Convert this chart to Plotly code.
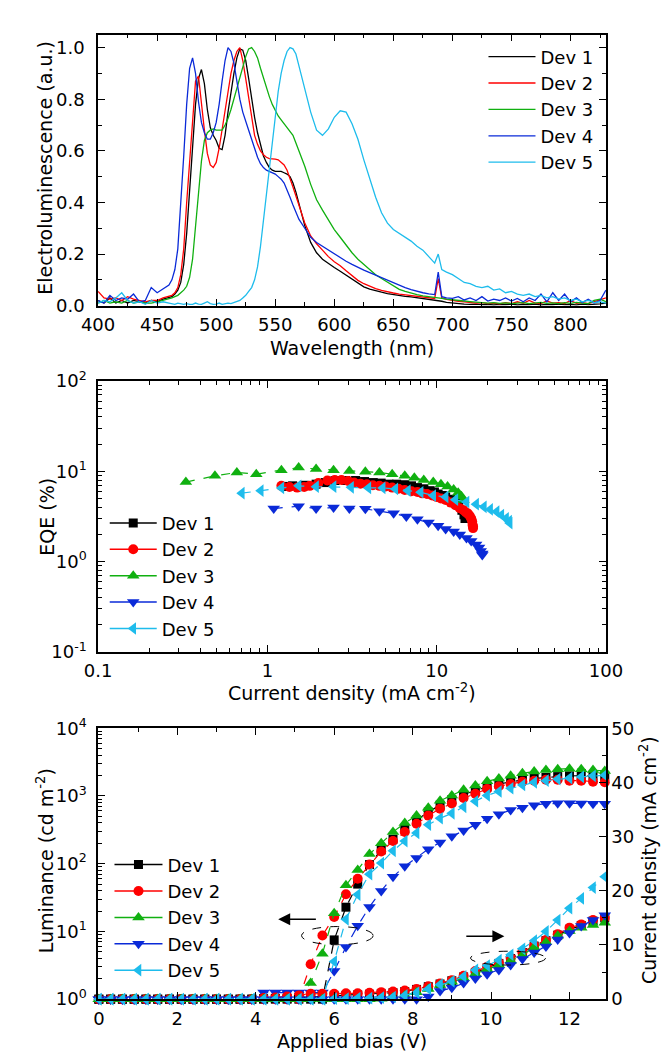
import plotly.graph_objects as go

# ---------------- data: electroluminescence spectra ----------------
WL = [400, 405, 410, 415, 420, 425, 430, 435, 440, 445, 450, 455,
      460, 462.5, 465, 467.5, 470, 472.5, 475, 477.5, 480, 482.5, 485, 487.5, 490, 492.5, 495, 497.5,
      500, 502.5, 505, 507.5, 510, 512.5, 515, 517.5, 520, 522.5, 525, 527.5, 530, 532.5, 535, 537.5,
      540, 542.5, 545, 547.5, 550, 552.5, 555, 557.5, 560, 562.5, 565, 567.5, 570,
      575, 580, 585, 590, 595, 600, 605, 610, 615, 620, 625, 630, 635, 640, 645, 650, 655, 660, 665,
      670, 675, 680, 685, 688, 691,
      695, 700, 705, 710, 715, 720, 725, 730, 735, 740, 745, 750, 755, 760, 765, 770, 775, 780, 785,
      790, 795, 800, 805, 810, 815, 820, 825, 830]

EL_DEV1 = [0.02, 0.01, 0.03, 0.01, 0.02, 0.01, 0.02, 0.015, 0.01, 0.02, 0.015, 0.025,
           0.03, 0.035, 0.045, 0.06, 0.09, 0.16, 0.28, 0.45, 0.62, 0.78, 0.88, 0.915, 0.86, 0.76, 0.69, 0.66,
           0.64, 0.61, 0.605, 0.66, 0.75, 0.83, 0.90, 0.96, 0.995, 0.99, 0.95, 0.88, 0.80, 0.73, 0.67, 0.62,
           0.58, 0.555, 0.535, 0.525, 0.52, 0.52, 0.52, 0.515, 0.51, 0.50, 0.475, 0.44, 0.40,
           0.31, 0.245, 0.205, 0.18, 0.163, 0.148, 0.133, 0.118, 0.10, 0.085, 0.073, 0.064, 0.057, 0.052,
           0.047, 0.043, 0.039, 0.036, 0.034, 0.031, 0.028, 0.025, 0.022, 0.02, 0.017,
           0.013, 0.01, 0.008, 0.006, 0.005, 0.006, 0.004, 0.005, 0.003, 0.005, 0.004, 0.006, 0.003,
           0.005, 0.004, 0.006, 0.003, 0.005, 0.004, 0.006, 0.004, 0.005, 0.003, 0.006, 0.004, 0.005,
           0.007, 0.01]

EL_DEV2 = [0.055, 0.03, 0.025, 0.03, 0.02, 0.035, 0.025, 0.02, 0.015, 0.02, 0.02, 0.03,
           0.035, 0.04, 0.05, 0.07, 0.12, 0.22, 0.40, 0.55, 0.72, 0.87, 0.89, 0.78, 0.68, 0.59, 0.545, 0.535,
           0.555, 0.61, 0.68, 0.75, 0.83, 0.90, 0.95, 0.985, 1.0, 0.95, 0.88, 0.80, 0.72, 0.66, 0.625, 0.60,
           0.585, 0.575, 0.57, 0.57, 0.568, 0.565, 0.555, 0.545, 0.525, 0.495, 0.46, 0.425, 0.39,
           0.32, 0.27, 0.24, 0.215, 0.19, 0.17, 0.155, 0.135, 0.115, 0.098, 0.085, 0.074, 0.066, 0.059,
           0.053, 0.049, 0.045, 0.042, 0.038, 0.035, 0.033, 0.03, 0.028, 0.105, 0.03,
           0.024, 0.02, 0.017, 0.015, 0.012, 0.01, 0.012, 0.008, 0.01, 0.007, 0.012, 0.008, 0.015,
           0.009, 0.02, 0.01, 0.008, 0.018, 0.01, 0.012, 0.008, 0.02, 0.009, 0.012, 0.008, 0.015,
           0.02, 0.03]

EL_DEV3 = [0.01, 0.02, 0.01, 0.015, 0.01, 0.02, 0.01, 0.015, 0.01, 0.01, 0.015, 0.02,
           0.025, 0.03, 0.035, 0.04, 0.05, 0.06, 0.075, 0.11, 0.18, 0.30, 0.44, 0.56, 0.64, 0.67, 0.68, 0.685,
           0.68, 0.68, 0.68, 0.70, 0.725, 0.76, 0.80, 0.85, 0.89, 0.93, 0.965, 0.995, 1.0, 0.985, 0.96, 0.92,
           0.88, 0.84, 0.81, 0.78, 0.755, 0.735, 0.72, 0.705, 0.69, 0.675, 0.66, 0.63, 0.60,
           0.54, 0.47, 0.41, 0.37, 0.33, 0.295, 0.265, 0.235, 0.205, 0.18, 0.16, 0.14, 0.12, 0.105,
           0.09, 0.075, 0.063, 0.055, 0.048, 0.043, 0.038, 0.034, 0.031, 0.03, 0.028,
           0.025, 0.022, 0.02, 0.018, 0.016, 0.014, 0.012, 0.01, 0.012, 0.009, 0.011, 0.008, 0.01,
           0.012, 0.008, 0.01, 0.013, 0.009, 0.011, 0.008, 0.012, 0.009, 0.013, 0.01, 0.008, 0.02,
           0.025, 0.015]

EL_DEV4 = [0.02, 0.01, 0.04, 0.02, 0.03, 0.025, 0.045, 0.015, 0.02, 0.07, 0.05, 0.065,
           0.08, 0.10, 0.14, 0.22, 0.38, 0.58, 0.78, 0.92, 0.96, 0.90, 0.79, 0.71, 0.67, 0.645, 0.645, 0.67,
           0.71, 0.78, 0.87, 0.95, 1.0, 0.985, 0.94, 0.87, 0.80, 0.75, 0.71, 0.68, 0.645, 0.61, 0.575, 0.55,
           0.535, 0.525, 0.52, 0.515, 0.51, 0.50, 0.49, 0.475, 0.45, 0.42, 0.39, 0.36, 0.335,
           0.30, 0.265, 0.245, 0.23, 0.215, 0.20, 0.185, 0.172, 0.16, 0.148, 0.138, 0.128, 0.118, 0.108,
           0.098, 0.088, 0.08, 0.07, 0.062, 0.055, 0.05, 0.046, 0.043, 0.13, 0.035,
           0.03, 0.028, 0.035, 0.022, 0.03, 0.02, 0.035, 0.018, 0.025, 0.02, 0.03, 0.018, 0.028,
           0.015, 0.03, 0.02, 0.045, 0.015, 0.05, 0.02, 0.045, 0.015, 0.03, 0.012, 0.025, 0.01,
           0.02, 0.06]

EL_DEV5 = [0.01, 0.02, 0.015, 0.03, 0.05, 0.02, 0.01, 0.015, 0.005, 0.02, 0.01, 0.015,
           0.01, 0.008, 0.005, 0.01, 0.006, 0.005, 0.008, 0.005, 0.005, 0.01, 0.006, 0.005, 0.01, 0.015,
           0.008, 0.005, 0.006, 0.01, 0.005, 0.008, 0.01, 0.008, 0.012, 0.015, 0.02, 0.03, 0.04, 0.055,
           0.07, 0.10, 0.15, 0.23, 0.33, 0.43, 0.53, 0.64, 0.74, 0.83, 0.90, 0.95, 0.985, 1.0, 0.995,
           0.975, 0.93,
           0.84, 0.75, 0.68, 0.66, 0.685, 0.73, 0.755, 0.75, 0.705, 0.645, 0.565, 0.49, 0.42, 0.36,
           0.32, 0.295, 0.28, 0.265, 0.25, 0.23, 0.215, 0.19, 0.165, 0.20, 0.14,
           0.13, 0.12, 0.105, 0.09, 0.085, 0.075, 0.07, 0.075, 0.06, 0.065, 0.05, 0.055, 0.045,
           0.04, 0.045, 0.035, 0.04, 0.03, 0.035, 0.025, 0.03, 0.02, 0.025, 0.015, 0.02, 0.012,
           0.015, 0.01]

# ---------------- data: EQE vs current density ----------------
EQE_J1 = [1.30, 1.41, 1.65, 1.94, 2.2, 2.51, 2.9, 3.32, 3.75, 4.22, 4.7, 5.23, 5.8, 6.48, 7.1,
          7.7, 8.4, 9.15, 9.7, 10.2, 10.8, 11.3, 12.1, 12.9, 13.5, 14.1, 14.5, 14.7]
EQE_E1 = [6.8, 6.9, 7.0, 7.2, 7.5, 7.9, 7.9, 7.9, 7.7, 7.5, 7.4, 7.2, 7.2, 7.1, 6.9,
          6.6, 6.4, 6.1, 5.9, 5.6, 5.4, 5.2, 4.9, 4.6, 4.2, 3.7, 3.3, 3.0]
EQE_J2 = [1.21, 1.35, 1.50, 1.65, 1.78, 2.0, 2.26, 2.5, 2.74, 3.0, 3.25, 3.55, 3.87, 4.2, 4.59,
          5.0, 5.46, 5.95, 6.48, 7.1, 7.7, 8.2, 8.77, 9.4, 9.98, 10.6, 11.3, 12.1, 12.9, 13.7,
          14.4, 14.9, 15.3, 15.7, 16.0, 16.2, 16.3, 16.4, 16.4]
EQE_E2 = [6.9, 6.7, 6.6, 6.7, 6.9, 7.4, 7.9, 8.0, 8.0, 7.8, 7.5, 7.3, 7.2, 7.0, 6.9,
          6.8, 6.6, 6.4, 6.2, 6.0, 5.9, 5.7, 5.6, 5.4, 5.2, 5.0, 4.8, 4.5, 4.2, 3.9,
          3.7, 3.5, 3.4, 3.2, 3.0, 2.8, 2.55, 2.45, 2.35]
EQE_J3 = [0.33, 0.49, 0.66, 0.86, 1.21, 1.53, 1.94, 2.46, 3.05, 3.79, 4.59, 5.46, 6.48, 7.38,
          8.39, 9.55, 10.6, 11.6, 12.6, 13.4, 14.0, 14.4]
EQE_E3 = [7.6, 8.9, 9.7, 9.3, 10.3, 11.0, 10.6, 10.3, 10.1, 9.9, 9.7, 9.3, 8.9, 8.5,
          8.0, 7.6, 7.2, 6.8, 6.3, 5.8, 5.3, 4.8]
EQE_J4 = [1.09, 1.53, 1.94, 2.46, 3.05, 3.79, 4.59, 5.57, 6.62, 7.7, 8.95, 10.2, 11.3, 12.6,
          13.7, 15.0, 16.0, 17.1, 17.8, 18.2, 18.6, 18.6]
EQE_E4 = [3.87, 4.1, 3.87, 3.97, 3.87, 3.84, 3.62, 3.42, 3.15, 2.94, 2.71, 2.49, 2.30, 2.15,
          1.99, 1.83, 1.69, 1.55, 1.43, 1.31, 1.23, 1.18]
EQE_J5 = [0.706, 0.914, 1.21, 1.53, 1.94, 2.46, 3.12, 3.95, 4.80, 5.70, 6.76, 8.04, 9.55, 11.3,
          12.9, 15.0, 17.1, 19.0, 20.7, 22.6, 24.1, 25.7, 26.8, 27.0]
EQE_E5 = [5.73, 6.1, 6.55, 6.9, 6.76, 6.76, 6.64, 6.55, 6.55, 6.38, 6.1, 5.86, 5.39, 5.2,
          4.85, 4.57, 4.32, 4.04, 3.78, 3.57, 3.28, 3.02, 2.8, 2.67]

# ---------------- data: luminance / current density vs bias ----------------
BIAS = [0, 0.3, 0.6, 0.9, 1.2, 1.5, 1.8, 2.1, 2.4, 2.7, 3.0, 3.3, 3.6, 3.9, 4.2, 4.5, 4.8, 5.1,
        5.4, 5.7, 6.0, 6.3, 6.6, 6.9, 7.2, 7.5, 7.8, 8.1, 8.4, 8.7, 9.0, 9.3, 9.6, 9.9, 10.2, 10.5,
        10.8, 11.1, 11.4, 11.7, 12.0, 12.3, 12.6, 12.9]

LUM_1 = [1, 1, 1, 1, 1, 1, 1, 1, 1, 1, 1, 1, 1, 1, 1, 1, 1, 1, 1, 1,
         7.5, 22.8, 50, 97, 160, 230, 330, 440, 580, 731, 880, 1050, 1200, 1360, 1500, 1620,
         1730, 1815, 1880, 1930, 1982, 1990, 1990, 1960]
LUM_2 = [1, 1, 1, 1, 1, 1, 1, 1, 1, 1, 1, 1, 1, 1, 1, 1, 1, 1,
         3.28, 8.7, 16.4, 35.3, 60, 97, 151, 216, 294, 388, 513, 650, 773, 933, 1076, 1272, 1390,
         1503, 1623, 1680, 1735, 1735, 1680, 1680, 1623, 1590]
LUM_3 = [1, 1, 1, 1, 1, 1, 1, 1, 1, 1, 1, 1, 1, 1, 1, 1, 1, 1,
         1.74, 4.7, 18.5, 48, 81, 139, 200, 294, 398, 513, 670, 850, 1019, 1231, 1422, 1644, 1815,
         1982, 2168, 2291, 2420, 2476, 2531, 2476, 2420, 2343]
LUM_4 = [1, 1, 1, 1, 1, 1, 1, 1, 1, 1, 1, 1, 1, 1, 1.25, 1.25, 1.25, 1.25, 1.25, 1.25,
         2.6, 5.9, 12.1, 23, 39.7, 64, 92, 121, 164, 206, 255, 308, 376, 459, 536, 619,
         670, 731, 770, 780, 780, 775, 770, 770]
LUM_5 = [1, 1, 1, 1, 1, 1, 1, 1, 1, 1, 1, 1, 1, 1, 1, 1, 1, 1, 1, 1,
         3.6, 15.1, 35, 70, 102, 155, 216, 285, 376, 469, 554, 692, 835, 1019, 1164, 1300,
         1452, 1590, 1680, 1775, 1835, 1914, 1982, 2027]

CD_1 = [0, 0, 0, 0, 0, 0, 0, 0, 0, 0, 0, 0, 0, 0,
        0.1, 0.15, 0.2, 0.3, 0.4, 0.5, 0.6, 0.7, 0.8, 0.9, 1.0, 1.2, 1.4, 1.8, 2.3, 2.8, 3.4, 4.1,
        4.9, 5.8, 6.6, 7.5, 8.6, 9.8, 10.8, 11.8, 12.9, 13.6, 14.4, 15.0]
CD_2 = [0, 0, 0, 0, 0, 0, 0, 0, 0, 0, 0, 0, 0, 0,
        0.2, 0.3, 0.5, 0.7, 1.0, 1.0, 1.0, 1.1, 1.1, 1.2, 1.3, 1.4, 1.6, 1.9, 2.4, 2.9, 3.5, 4.3,
        5.2, 6.0, 6.7, 7.6, 8.7, 9.9, 10.9, 12.0, 13.2, 13.8, 14.6, 15.0]
CD_3 = [0, 0, 0, 0, 0, 0, 0, 0, 0, 0, 0, 0, 0, 0, 0, 0, 0, 0, 0, 0, 0, 0, 0, 0,
        0.1, 0.3, 0.7, 1.3, 1.9, 2.6, 3.2, 3.9, 4.7, 5.5, 6.3, 7.1, 8.1, 9.6, 10.5, 11.7, 12.6,
        13.2, 13.7, 14.1]
CD_4 = [0, 0, 0, 0, 0, 0, 0, 0, 0, 0, 0, 0, 0, 0, 0, 0, 0, 0, 0, 0, 0, 0, 0, 0, 0, 0, 0, 0,
        0.5, 1.5, 2.1, 3.0, 3.8, 4.6, 5.4, 6.3, 7.4, 8.6, 9.7, 11.0, 12.2, 13.5, 14.6, 15.5]
CD_5 = [0, 0, 0, 0, 0, 0, 0, 0, 0, 0, 0, 0, 0, 0, 0, 0, 0, 0, 0, 0,
        0.1, 0.1, 0.2, 0.2, 0.3, 0.4, 0.7, 1.2, 1.9, 2.7, 3.3, 4.2, 5.4, 6.2, 7.2, 8.2, 9.3,
        10.8, 12.5, 14.6, 16.8, 18.6, 20.6, 22.6]

NAMES = ["Dev 1", "Dev 2", "Dev 3", "Dev 4", "Dev 5"]
COLORS = ["#000000", "#ff0000", "#10b010", "#0a2ad8", "#1ebcec"]
SYMBOLS = ["square", "circle", "triangle-up", "triangle-down", "triangle-left"]
MSIZES = [9, 10, 11, 11, 11]

FONT = "DejaVu Sans"
W, H = 670, 1054
PL, PR = 77, 612
PANELS = {"top": (14, 291), "mid": (368, 645), "bot": (723, 1000)}


def ydom(p):
    t, b = PANELS[p]
    return [1 - b / H, 1 - t / H]


def px(x):
    return x / W


def py(y):
    return 1 - y / H


XDOM = [PL / W, PR / W]

fig = go.Figure()

# ---- top panel: spectra
EL = [EL_DEV1, EL_DEV2, EL_DEV3, EL_DEV4, EL_DEV5]
for i in range(5):
    fig.add_trace(go.Scatter(x=WL, y=EL[i], mode="lines", name=NAMES[i],
                             line=dict(color=COLORS[i], width=1.3),
                             xaxis="x", yaxis="y", legend="legend"))

# ---- middle panel: EQE
EQJ = [EQE_J1, EQE_J2, EQE_J3, EQE_J4, EQE_J5]
EQE = [EQE_E1, EQE_E2, EQE_E3, EQE_E4, EQE_E5]
for i in range(5):
    fig.add_trace(go.Scatter(x=EQJ[i], y=EQE[i], mode="lines+markers", name=NAMES[i],
                             line=dict(color=COLORS[i], width=1.2, dash="dash"),
                             marker=dict(symbol=SYMBOLS[i], size=MSIZES[i], color=COLORS[i]),
                             xaxis="x2", yaxis="y2", showlegend=False))
for i in range(5):
    fig.add_trace(go.Scatter(x=[None], y=[None], mode="lines+markers", name=NAMES[i],
                             line=dict(color=COLORS[i], width=1.5),
                             marker=dict(symbol=SYMBOLS[i], size=MSIZES[i], color=COLORS[i]),
                             xaxis="x2", yaxis="y2", legend="legend2"))

# ---- bottom panel: luminance (left) and current density (right)
LUM = [LUM_1, LUM_2, LUM_3, LUM_4, LUM_5]
CD = [CD_1, CD_2, CD_3, CD_4, CD_5]
for i in range(5):
    fig.add_trace(go.Scatter(x=BIAS, y=LUM[i], mode="lines+markers", name=NAMES[i],
                             line=dict(color=COLORS[i], width=1.2, dash="dash"),
                             marker=dict(symbol=SYMBOLS[i], size=MSIZES[i], color=COLORS[i]),
                             xaxis="x3", yaxis="y3", showlegend=False, cliponaxis=False))
for i in range(5):
    fig.add_trace(go.Scatter(x=BIAS, y=CD[i], mode="lines+markers", name=NAMES[i],
                             line=dict(color=COLORS[i], width=1.2, dash="dash"),
                             marker=dict(symbol=SYMBOLS[i], size=MSIZES[i], color=COLORS[i]),
                             xaxis="x3", yaxis="y4", showlegend=False, cliponaxis=False))
for i in range(5):
    fig.add_trace(go.Scatter(x=[None], y=[None], mode="lines+markers", name=NAMES[i],
                             line=dict(color=COLORS[i], width=1.5),
                             marker=dict(symbol=SYMBOLS[i], size=MSIZES[i], color=COLORS[i]),
                             xaxis="x3", yaxis="y3", legend="legend3"))

tickfont = dict(family=FONT, size=18, color="black")
titlefont = dict(family=FONT, size=19, color="black")
common = dict(showline=True, linecolor="black", linewidth=1.5, ticks="inside", ticklen=7,
              tickwidth=1.3, tickcolor="black", showgrid=False, zeroline=False, tickfont=tickfont)
XSTAND = 2

DEC = [2, 3, 4, 5, 6, 7, 8, 9]
MINOR_LOG3 = [m * 0.1 for m in DEC] + DEC + [m * 10 for m in DEC]
MINOR_Y3 = DEC + [m * 10 for m in DEC] + [m * 100 for m in DEC] + [m * 1000 for m in DEC]
legfont = dict(family=FONT, size=18, color="black")

fig.update_layout(
    width=W, height=H, margin=dict(l=0, r=0, t=0, b=0),
    paper_bgcolor="white", plot_bgcolor="white",
    font=dict(family=FONT, size=18, color="black"),
    xaxis=dict(domain=XDOM, anchor="y", range=[400, 830], tickvals=[400, 450, 500, 550, 600, 650, 700, 750, 800],
               mirror="ticks", ticklabelstandoff=XSTAND,
               minor=dict(dtick=25, tick0=400, ticks="inside", ticklen=4, tickcolor="black"), **common),
    yaxis=dict(domain=ydom("top"), anchor="x", range=[0, 1.05], tickvals=[0, 0.2, 0.4, 0.6, 0.8, 1.0],
               tickformat=".1f", mirror="ticks", ticklabelstandoff=8,
               minor=dict(dtick=0.1, tick0=0, ticks="inside", ticklen=4, tickcolor="black"), **common),
    xaxis2=dict(domain=XDOM, anchor="y2", type="log", range=[-1, 2], tickvals=[0.1, 1, 10, 100],
                ticktext=["0.1", "1", "10", "100"], mirror="ticks", ticklabelstandoff=XSTAND,
                minor=dict(tickvals=MINOR_LOG3, ticks="inside", ticklen=4, tickcolor="black"), **common),
    yaxis2=dict(domain=ydom("mid"), anchor="x2", type="log", range=[-1, 2], tickvals=[0.1, 1, 10, 100],
                ticktext=["10<sup>-1</sup>", "10<sup>0</sup>", "10<sup>1</sup>", "10<sup>2</sup>"],
                mirror="ticks", ticklabelstandoff=6,
                minor=dict(tickvals=MINOR_LOG3, ticks="inside", ticklen=4, tickcolor="black"), **common),
    xaxis3=dict(domain=XDOM, anchor="y3", range=[-0.02, 12.93], tickvals=[0, 2, 4, 6, 8, 10, 12],
                mirror="ticks", ticklabelstandoff=XSTAND,
                minor=dict(dtick=1, tick0=0, ticks="inside", ticklen=4, tickcolor="black"), **common),
    yaxis3=dict(domain=ydom("bot"), anchor="x3", type="log", range=[0, 4], tickvals=[1, 10, 100, 1000, 10000],
                ticktext=["10<sup>0</sup>", "10<sup>1</sup>", "10<sup>2</sup>", "10<sup>3</sup>", "10<sup>4</sup>"],
                ticklabelstandoff=6,
                minor=dict(tickvals=MINOR_Y3, ticks="inside", ticklen=4, tickcolor="black"), **common),
    yaxis4=dict(domain=ydom("bot"), anchor="x3", overlaying="y3", side="right", range=[0, 50],
                tickvals=[0, 10, 20, 30, 40, 50], ticklabelstandoff=0,
                minor=dict(dtick=5, tick0=0, ticks="inside", ticklen=4, tickcolor="black"), **common),
    legend=dict(x=px(483), y=py(17.8), xanchor="left", yanchor="top", bgcolor="rgba(0,0,0,0)",
                font=legfont, itemwidth=47),
    legend2=dict(x=px(84), y=py(494.5), xanchor="left", yanchor="top", bgcolor="rgba(0,0,0,0)",
                 font=legfont, itemwidth=47),
    legend3=dict(x=px(89), y=py(843.8), xanchor="left", yanchor="top", bgcolor="rgba(0,0,0,0)",
                 font=legfont, itemwidth=48),
)

# axis titles
TITLES = [
    ("Wavelength (nm)", 344.5, 334, 0),
    ("Current density (mA cm<sup>-2</sup>)", 344.5, 686, 0),
    ("Applied bias (V)", 344.5, 1043, 0),
    ("Electroluminescence (a.u.)", 21, 150, -90),
    ("EQE (%)", 23, 507, -90),
    ("Luminance (cd m<sup>-2</sup>)", 21, 858, -90),
    ("Current density (mA cm<sup>-2</sup>)", 657, 858, -90),
]
for txt, tx, ty, ang in TITLES:
    fig.add_annotation(xref="paper", yref="paper", x=px(tx), y=py(ty), text=txt, showarrow=False,
                       textangle=ang, xanchor="center", yanchor="middle", font=titlefont)

# arrows and ellipses marking which axis each set of curves belongs to
fig.add_annotation(xref="x3 domain", yref="y3 domain", x=0.3546, y=0.295, ax=0.4318, ay=0.295,
                   axref="x3 domain", ayref="y3 domain", showarrow=True, arrowhead=2, arrowsize=1.6,
                   arrowwidth=1.5, arrowcolor="black", text="")
fig.add_annotation(xref="x3 domain", yref="y3 domain", x=0.8000, y=0.232, ax=0.7221, ay=0.232,
                   axref="x3 domain", ayref="y3 domain", showarrow=True, arrowhead=2, arrowsize=1.6,
                   arrowwidth=1.5, arrowcolor="black", text="")
fig.add_shape(type="circle", xref="x3 domain", yref="y3 domain", x0=0.4006, x1=0.5415, y0=0.201, y1=0.268,
              line=dict(color="black", width=1, dash="dash"))
fig.add_shape(type="circle", xref="x3 domain", yref="y3 domain", x0=0.7333, x1=0.8810, y0=0.126, y1=0.177,
              line=dict(color="black", width=1, dash="dash"))

fig.write_html("out.html")
